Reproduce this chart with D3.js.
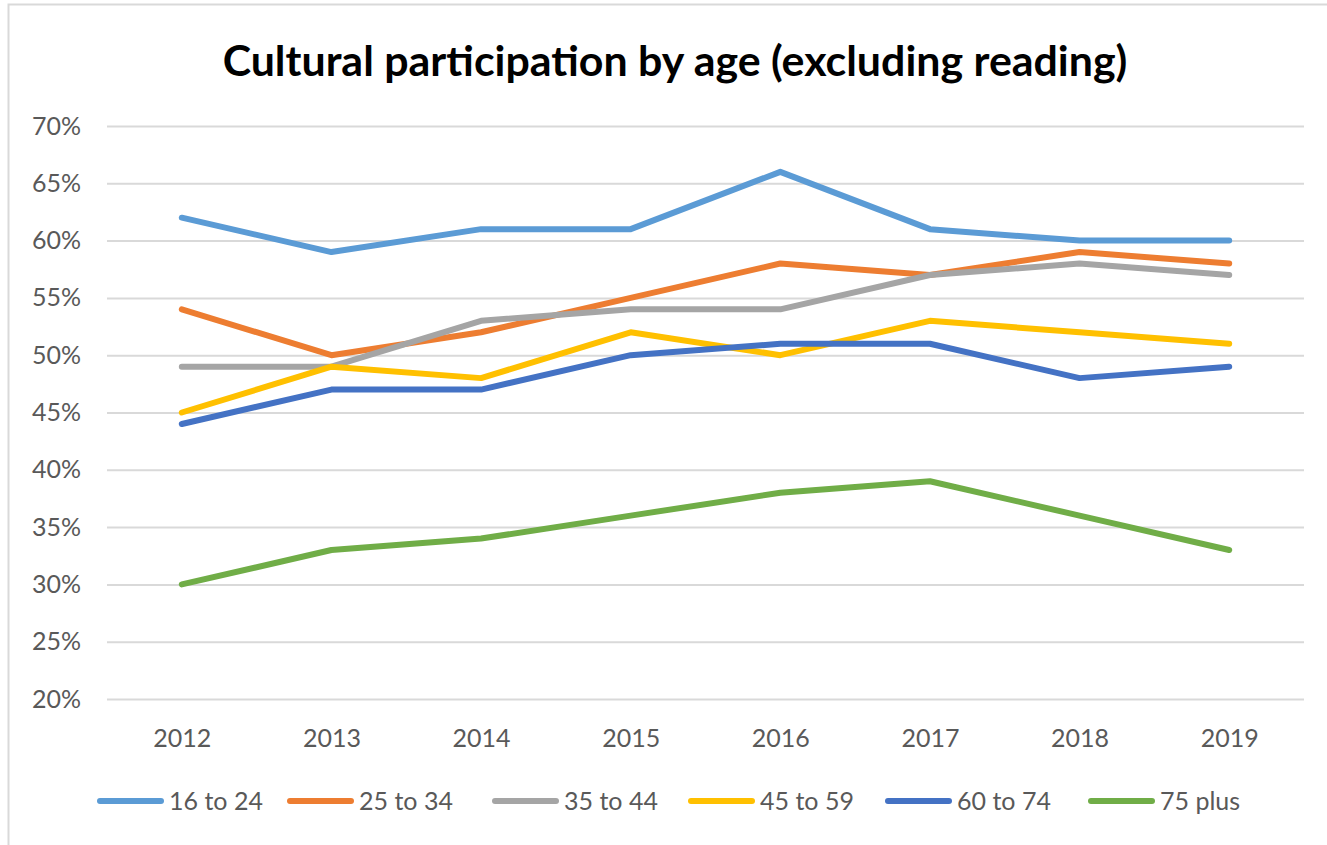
<!DOCTYPE html>
<html>
<head>
<meta charset="utf-8">
<script src="https://cdn.jsdelivr.net/npm/d3@7"></script>
<style>
  body { margin: 0; background: #fff; }
  svg { display: block; font-family: Lato, "Open Sans", sans-serif; }
</style>
</head>
<body>
<div id="chart"></div>
<script>
// chart data
const years = ["2012", "2013", "2014", "2015", "2016", "2017", "2018", "2019"];
const seriesNames = ["16 to 24", "25 to 34", "35 to 44", "45 to 59", "60 to 74", "75 plus"];
const age16to24 = [62, 59, 61, 61, 66, 61, 60, 60];
const age25to34 = [54, 50, 52, 55, 58, 57, 59, 58];
const age35to44 = [49, 49, 53, 54, 54, 57, 58, 57];
const age45to59 = [45, 49, 48, 52, 50, 53, 52, 51];
const age60to74 = [44, 47, 47, 50, 51, 51, 48, 49];
const age75plus = [30, 33, 34, 36, 38, 39, 36, 33];
const yTicks = [20, 25, 30, 35, 40, 45, 50, 55, 60, 65, 70];
const colors = ["#5B9BD5", "#ED7D31", "#A5A5A5", "#FFC000", "#4472C4", "#70AD47"];

const seriesValues = [age16to24, age25to34, age35to44, age45to59, age60to74, age75plus];
const series = seriesNames.map((name, i) => ({
    name: name,
    color: colors[i],
    values: seriesValues[i].map((v, j) => ({ year: years[j], value: v }))
}));

const width = 1327, height = 845;
const plot = { left: 107, right: 1304, top: 126, bottom: 699 };
const labelSize = 25;

const svg = d3.select("#chart").append("svg")
    .attr("width", width)
    .attr("height", height);

// outer chart border
svg.append("rect")
    .attr("x", 8.5).attr("y", 4.5)
    .attr("width", width + 10).attr("height", height + 10)
    .attr("fill", "none")
    .attr("stroke", "#d9d9d9")
    .attr("stroke-width", 2);

const x = d3.scalePoint()
    .domain(years)
    .range([plot.left, plot.right])
    .padding(0.5);

const y = d3.scaleLinear()
    .domain([20, 70])
    .range([plot.bottom, plot.top]);

// title, fitted to the width it has in the original
const title = svg.append("text")
    .attr("x", 675)
    .attr("y", 76)
    .attr("text-anchor", "middle")
    .attr("font-weight", "bold")
    .attr("font-size", 36)
    .attr("fill", "#000")
    .text("Cultural participation by age (excluding reading)");
const tw = title.node().getComputedTextLength();
title.attr("font-size", 36 * 905 / tw);

// gridlines + y labels
const yAxis = svg.append("g")
    .attr("transform", `translate(${plot.left},0)`)
    .call(d3.axisLeft(y)
        .tickValues(yTicks)
        .tickSize(-(plot.right - plot.left))
        .tickPadding(26)
        .tickFormat(d => d + "%"));
yAxis.select(".domain").remove();
yAxis.selectAll(".tick line").attr("stroke", "#d9d9d9").attr("stroke-width", 2);
yAxis.selectAll(".tick text")
    .attr("fill", "#595959")
    .attr("font-size", labelSize)
    .attr("font-family", "Lato, sans-serif");

// x labels
const xAxis = svg.append("g")
    .attr("transform", `translate(0,${plot.bottom})`)
    .call(d3.axisBottom(x).tickSize(0).tickPadding(30));
xAxis.select(".domain").remove();
xAxis.selectAll(".tick text")
    .attr("fill", "#595959")
    .attr("font-size", labelSize)
    .attr("font-family", "Lato, sans-serif");

// lines
const line = d3.line()
    .x(d => x(d.year))
    .y(d => y(d.value));

svg.append("g")
    .selectAll("path")
    .data(series)
    .join("path")
    .attr("d", d => line(d.values))
    .attr("fill", "none")
    .attr("stroke", d => d.color)
    .attr("stroke-width", 6)
    .attr("stroke-linejoin", "round")
    .attr("stroke-linecap", "round");

// legend
const legendX = [97, 287, 492, 688, 885, 1088];
const legend = svg.append("g")
    .selectAll("g")
    .data(series)
    .join("g")
    .attr("transform", (d, i) => `translate(${legendX[i]},801)`);
legend.append("line")
    .attr("x1", 3).attr("x2", 64)
    .attr("y1", 0).attr("y2", 0)
    .attr("stroke", d => d.color)
    .attr("stroke-width", 6)
    .attr("stroke-linecap", "round");
legend.append("text")
    .attr("x", 72)
    .attr("y", 9)
    .attr("fill", "#595959")
    .attr("font-size", labelSize)
    .text(d => d.name);
</script>
</body>
</html>
